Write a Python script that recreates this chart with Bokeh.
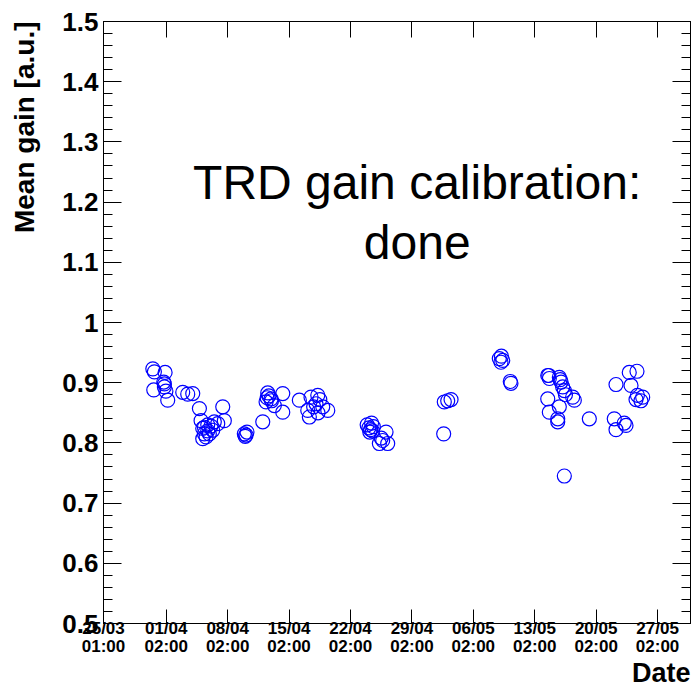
from bokeh.plotting import figure
from bokeh.models import FixedTicker, LinearAxis, Label, Range1d, ColumnDataSource, Title
from bokeh.embed import file_html
from bokeh.resources import INLINE

# x: days since 01/04 00:00 UTC (= 01/04 02:00 local), y: mean gain [a.u.]
day = [
    -1.53, -1.35, -1.42, -0.13, -0.21, -0.28, -0.04, -0.21, 0.17,
    1.88, 2.45, 3.02,
    3.78, 3.97, 4.16, 4.35, 4.16, 4.54, 4.73, 4.91, 5.30, 5.48, 5.87, 6.44, 6.62, 4.35, 4.73, 5.10,
    8.9, 9.1, 9.2, 9.0,
    11.0,
    11.57, 13.28, 11.38, 12.32, 13.28, 11.95, 11.7, 12.0, 11.5,
    15.17, 16.5, 17.27, 16.13, 16.31, 17.84, 17.07, 18.41, 17.5, 16.8, 17.3,
    22.9, 23.1, 23.3, 23.4, 23.6, 23.2, 23.5, 25.05, 24.67, 25.24, 24.29, 24.5,
    31.62,
    31.69, 32.08, 32.46,
    37.96, 38.35, 38.15, 38.2,
    39.21, 39.29,
    43.48, 43.66, 44.8, 45.0, 45.18, 45.37, 46.32, 46.51, 43.48, 43.66, 44.8, 44.62, 44.62, 45.37,
    43.6, 44.9, 45.5,
    48.22,
    51.26, 52.77, 53.65, 52.97, 53.54, 54.3, 53.7, 54.1,
    51.06, 51.26, 52.4, 52.2,
]
gain = [
    0.923, 0.918, 0.888, 0.917, 0.898, 0.901, 0.886, 0.893, 0.871,
    0.884, 0.881, 0.882,
    0.857, 0.837, 0.824, 0.815, 0.807, 0.810, 0.830, 0.815, 0.821, 0.835, 0.832, 0.860, 0.837, 0.826, 0.820, 0.828,
    0.815, 0.813, 0.818, 0.811,
    0.835,
    0.883, 0.882, 0.868, 0.862, 0.851, 0.873, 0.878, 0.870, 0.875,
    0.871, 0.876, 0.879, 0.854, 0.843, 0.860, 0.865, 0.854, 0.872, 0.860, 0.850,
    0.830, 0.825, 0.822, 0.833, 0.827, 0.818, 0.820, 0.818, 0.804, 0.799, 0.799, 0.808,
    0.815,
    0.868, 0.870, 0.872,
    0.940, 0.937, 0.934, 0.944,
    0.902, 0.899,
    0.912, 0.907, 0.909, 0.901, 0.893, 0.887, 0.876, 0.871, 0.873, 0.851, 0.860, 0.840, 0.835, 0.745,
    0.912, 0.905, 0.880,
    0.840,
    0.897, 0.917, 0.919, 0.8955, 0.872, 0.876, 0.879, 0.870,
    0.840, 0.822, 0.829, 0.833,
]

x_start, x_end = -7.15, 59.75
y_start, y_end = 0.5, 1.5

x_ticks = [x_start, 0, 7, 14, 21, 28, 35, 42, 49, 56]
x_tick_labels = ["25/03\n01:00", "01/04\n02:00", "08/04\n02:00", "15/04\n02:00",
                 "22/04\n02:00", "29/04\n02:00", "06/05\n02:00", "13/05\n02:00",
                 "20/05\n02:00", "27/05\n02:00"]
y_ticks = [0.5, 0.6, 0.7, 0.8, 0.9, 1.0, 1.1, 1.2, 1.3, 1.4, 1.5]
y_tick_labels = ["0.5", "0.6", "0.7", "0.8", "0.9", "1", "1.1", "1.2", "1.3", "1.4", "1.5"]
y_minor = [round(0.5 + 0.02 * i, 2) for i in range(51)]

FONT = "Liberation Sans"

p = figure(width=692, height=686, output_backend="svg", toolbar_location=None,
           x_range=Range1d(x_start, x_end), y_range=Range1d(y_start, y_end),
           x_axis_location=None, y_axis_location=None,
           min_border_left=103, min_border_right=2, min_border_top=21, min_border_bottom=63)
p.xgrid.visible = False
p.ygrid.visible = False
p.outline_line_color = "black"
p.outline_line_width = 1
p.background_fill_color = "white"
p.border_fill_color = "white"

def style(ax, ticker, tick_len, minor_len, labels):
    ax.ticker = ticker
    ax.axis_line_color = "black"
    ax.major_tick_line_color = "black"
    ax.minor_tick_line_color = "black"
    ax.major_tick_in = tick_len
    ax.major_tick_out = 0
    ax.minor_tick_in = minor_len
    ax.minor_tick_out = 0
    ax.major_label_text_font = FONT
    ax.major_label_text_font_style = "bold"
    ax.major_label_text_color = "black"
    ax.major_label_overrides = labels

bottom = LinearAxis()
style(bottom, FixedTicker(ticks=x_ticks), 14, 0, dict(zip(x_ticks, x_tick_labels)))
bottom.major_label_text_font_size = "17px"
bottom.major_label_standoff = -5
bottom.major_label_text_line_height = 0.95
p.add_layout(bottom, "below")

top_ticks = x_ticks[1:]
top = LinearAxis()
style(top, FixedTicker(ticks=top_ticks), 16, 0, {k: "" for k in top_ticks})
top.major_label_standoff = 0
top.major_label_text_font_size = "1px"
p.add_layout(top, "above")

left = LinearAxis()
style(left, FixedTicker(ticks=y_ticks, minor_ticks=y_minor), 18, 9, dict(zip(y_ticks, y_tick_labels)))
left.major_label_text_font_size = "26px"
left.major_label_standoff = 5
p.add_layout(left, "left")

# spacer axis with invisible ticks: reserves room between the tick labels and the title
spacer = LinearAxis()
style(spacer, FixedTicker(ticks=y_ticks), 0, 0, {k: "" for k in y_ticks})
spacer.axis_line_color = None
spacer.major_tick_line_color = None
spacer.minor_tick_line_color = None
spacer.major_tick_out = 17
spacer.major_label_standoff = 0
spacer.major_label_text_font_size = "1px"
p.add_layout(spacer, "left")

right = LinearAxis()
style(right, FixedTicker(ticks=y_ticks, minor_ticks=y_minor), 18, 9, {k: "" for k in y_ticks})
right.major_label_standoff = 0
right.major_label_text_font_size = "1px"
p.add_layout(right, "right")

src = ColumnDataSource(dict(day=day, gain=gain))
p.scatter("day", "gain", source=src, marker="circle", size=14,
          fill_color=None, line_color="#0000ff", line_width=1.2)

p.add_layout(Title(text="Mean gain [a.u.]", align="right", standoff=6,
                   text_font=FONT, text_font_style="bold", text_font_size="28px",
                   text_color="black"), "left")
p.add_layout(Title(text="Date", align="right", standoff=-6,
                   text_font=FONT, text_font_style="bold", text_font_size="27px",
                   text_color="black"), "below")

p.add_layout(Label(x=28.6, y=1.232, text="TRD gain calibration:",
                   text_align="center", text_baseline="alphabetic",
                   text_font=FONT, text_font_size="48px", text_color="black"))
p.add_layout(Label(x=28.6, y=1.1328, text="done",
                   text_align="center", text_baseline="alphabetic",
                   text_font=FONT, text_font_size="48px", text_color="black"))

open("out.html", "w").write(file_html(p, INLINE))
